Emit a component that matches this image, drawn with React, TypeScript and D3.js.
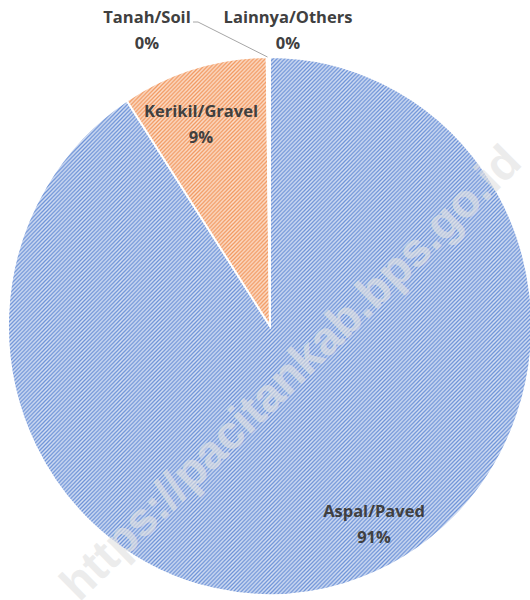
import React from "react";
import * as d3 from "d3";

const categories = ["Aspal/Paved", "Kerikil/Gravel", "Tanah/Soil", "Lainnya/Others"];
const values = [90.8, 9.0, 0.1, 0.1];
const percentLabels = ["91%", "9%", "0%", "0%"];

const W = 530;
const H = 600;
const CX = 270;
const CY = 326;
const R = 269;
const SX = 262 / 269;

// label anchor positions (layout)
const labelPos: [number, number][] = [
  [374, 511],
  [201, 111],
  [147, 17],
  [288, 17],
];

export default function App() {
  const pie = d3
    .pie<number>()
    .sort(null)
    .value((d) => d)
    .startAngle(0)
    .endAngle(2 * Math.PI);
  const arcs = pie(values);
  const arc = d3.arc<d3.PieArcDatum<number>>().innerRadius(0).outerRadius(R);
  const fills = ["url(#pBlue)", "url(#pOrange)", "url(#pGray)", "url(#pGray)"];

  const tanah = arcs[2];
  const midA = (tanah.startAngle + tanah.endAngle) / 2;
  const ex = CX + SX * R * Math.sin(midA);
  const ey = CY - R * Math.cos(midA);

  const font = "'Open Sans', Lato, Arial, sans-serif";
  return (
    <svg
      width={W}
      height={H}
      style={{ position: "absolute", left: 0, top: 0, background: "#fff" }}
    >
      <defs>
        <pattern id="pBlue" patternUnits="userSpaceOnUse" width={4} height={4}>
          <rect width={4} height={4} fill="#d3def3" />
          <path d="M-1,1 l2,-2 M0,4 l4,-4 M3,5 l2,-2" stroke="#6f94d8" strokeWidth={1.3} />
        </pattern>
        <pattern id="pOrange" patternUnits="userSpaceOnUse" width={4} height={4}>
          <rect width={4} height={4} fill="#fbdcc8" />
          <path d="M-1,1 l2,-2 M0,4 l4,-4 M3,5 l2,-2" stroke="#f29a62" strokeWidth={1.3} />
        </pattern>
        <pattern id="pGray" patternUnits="userSpaceOnUse" width={4} height={4}>
          <rect width={4} height={4} fill="#e0e0e0" />
          <path d="M-1,1 l2,-2 M0,4 l4,-4 M3,5 l2,-2" stroke="#a5a5a5" strokeWidth={1.3} />
        </pattern>
      </defs>
      <g transform={`translate(${CX},${CY}) scale(${SX},1)`}>
        {arcs.map((a, i) => (
          <path key={i} d={arc(a) || ""} fill={fills[i]} stroke="#fff" strokeWidth={2} />
        ))}
      </g>
      <polyline
        points={`193,22 198,22 ${ex},${ey}`}
        fill="none"
        stroke="#a6a6a6"
        strokeWidth={1}
      />
      {categories.map((c, i) => (
        <g key={c} fontFamily={font} fontWeight="bold" fontSize={16.5} fill="#404040" textAnchor="middle">
          <text x={labelPos[i][0]} y={labelPos[i][1]} dy="0.35em">
            {c}
          </text>
          <text x={labelPos[i][0]} y={labelPos[i][1] + 26} dy="0.35em">
            {percentLabels[i]}
          </text>
        </g>
      ))}
      <text
        x={290}
        y={372}
        transform="rotate(-44.6 290 372)"
        textAnchor="middle"
        dy="0.35em"
        fontFamily="'Liberation Sans', Arial, sans-serif"
        fontWeight="bold"
        fontSize={47}
        fill="#e2e2e2"
        fillOpacity={0.65}
      >
        https://pacitankab.bps.go.id
      </text>
    </svg>
  );
}
